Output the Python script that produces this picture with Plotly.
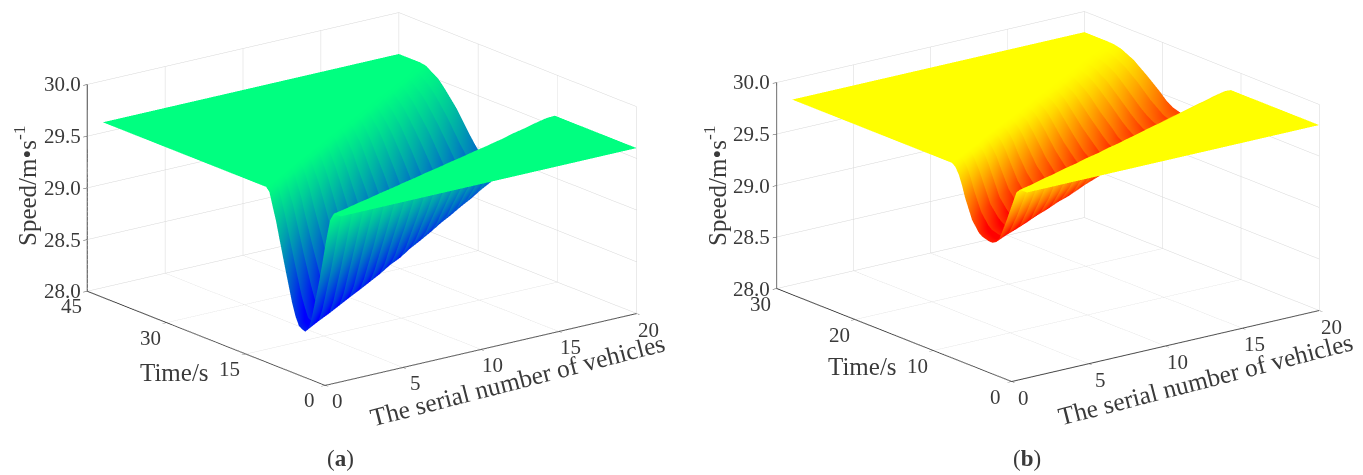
import plotly.graph_objects as go

vehicles = list(range(1, 21))

# Panel (a): sample times per vehicle (s)
time_a = [
 [1.3,2.7,4.0,5.4,6.7,7.9,9.2,10.4,11.6,12.9,14.1],
 [2.0,3.5,4.9,6.4,7.8,9.1,10.4,11.7,12.9,14.2,15.5],
 [2.8,4.3,5.8,7.3,8.8,10.2,11.5,12.9,14.2,15.6,16.9],
 [3.5,5.1,6.7,8.3,9.9,11.3,12.7,14.2,15.6,17.0,18.4],
 [4.3,6.0,7.7,9.3,11.0,12.5,13.9,15.4,16.9,18.3,19.8],
 [5.0,6.8,8.5,10.3,12.0,13.5,15.1,16.6,18.1,19.7,21.2],
 [5.8,7.6,9.5,11.3,13.1,14.7,16.3,17.9,19.4,21.0,22.6],
 [6.5,8.4,10.4,12.3,14.2,15.8,17.5,19.1,20.7,22.4,24.0],
 [7.3,9.3,11.3,13.3,15.3,17.0,18.7,20.4,22.1,23.8,25.5],
 [8.0,10.1,12.2,14.2,16.3,18.1,19.8,21.6,23.4,25.1,26.9],
 [8.8,11.0,13.1,15.3,17.4,19.2,21.0,22.9,24.7,26.5,28.3],
 [9.5,11.8,14.0,16.3,18.5,20.4,22.2,24.1,26.0,27.8,29.7],
 [10.3,12.6,14.9,17.2,19.5,21.4,23.4,25.3,27.2,29.2,31.1],
 [11.0,13.4,15.8,18.2,20.6,22.6,24.6,26.6,28.6,30.6,32.6],
 [11.8,14.3,16.8,19.2,21.7,23.8,25.8,27.9,29.9,32.0,34.0],
 [12.5,15.1,17.6,20.2,22.7,24.8,26.9,29.1,31.2,33.3,35.4],
 [13.3,15.9,18.6,21.2,23.8,26.0,28.1,30.3,32.5,34.6,36.8],
 [14.0,16.7,19.5,22.2,24.9,27.1,29.3,31.6,33.8,36.0,38.2],
 [14.8,17.6,20.4,23.2,26.0,28.3,30.6,32.9,35.1,37.4,39.7],
 [15.5,18.4,21.3,24.1,27.0,29.3,31.7,34.0,36.3,38.7,41.0],
]
# Panel (a): speed at those times (m/s)
speed_a = [
 [29.6,29.33,28.91,28.53,28.35,28.38,28.58,28.86,29.15,29.44,29.6],
 [29.6,29.33,28.92,28.54,28.37,28.40,28.60,28.89,29.17,29.45,29.6],
 [29.6,29.33,28.93,28.56,28.39,28.43,28.63,28.91,29.19,29.45,29.6],
 [29.6,29.34,28.95,28.58,28.41,28.46,28.66,28.93,29.20,29.46,29.6],
 [29.6,29.34,28.96,28.60,28.44,28.49,28.69,28.96,29.22,29.47,29.6],
 [29.6,29.35,28.97,28.62,28.46,28.52,28.72,28.98,29.24,29.47,29.6],
 [29.6,29.35,28.98,28.64,28.48,28.55,28.75,29.01,29.25,29.48,29.6],
 [29.6,29.36,29.00,28.65,28.50,28.57,28.77,29.03,29.27,29.49,29.6],
 [29.6,29.37,29.01,28.68,28.53,28.61,28.80,29.05,29.29,29.49,29.6],
 [29.6,29.37,29.02,28.70,28.55,28.63,28.83,29.08,29.30,29.50,29.6],
 [29.6,29.38,29.04,28.72,28.58,28.66,28.86,29.10,29.32,29.51,29.6],
 [29.6,29.38,29.05,28.74,28.60,28.69,28.88,29.12,29.33,29.51,29.6],
 [29.6,29.39,29.07,28.77,28.63,28.72,28.92,29.14,29.35,29.52,29.6],
 [29.6,29.39,29.08,28.79,28.66,28.76,28.95,29.17,29.37,29.52,29.6],
 [29.6,29.40,29.09,28.81,28.68,28.78,28.97,29.19,29.38,29.53,29.6],
 [29.6,29.40,29.11,28.84,28.71,28.81,29.00,29.21,29.39,29.53,29.6],
 [29.6,29.41,29.12,28.85,28.73,28.84,29.02,29.23,29.40,29.54,29.6],
 [29.6,29.42,29.14,28.88,28.76,28.87,29.05,29.25,29.42,29.54,29.6],
 [29.6,29.42,29.15,28.90,28.79,28.90,29.07,29.27,29.43,29.55,29.6],
 [29.6,29.43,29.17,28.93,28.82,28.93,29.10,29.29,29.44,29.55,29.6],
]
# Panel (a): further samples read on the rounded parts, one value per vehicle
crest_t_a = [2.0,2.75,3.55,4.3,5.15,5.9,6.7,7.45,8.3,9.05,9.9,10.65,11.45,12.2,13.05,13.8,14.6,15.35,16.2,16.95]
crest_v_a = [29.525,29.53,29.53,29.53,29.53,29.53,29.53,29.535,29.535,29.54,29.54,29.54,29.54,29.545,29.545,29.545,29.55,29.55,29.55,29.55]
before_min_t_a = [6.05,7.1,8.05,9.1,10.15,11.15,12.2,13.25,14.3,15.25,16.35,17.4,18.35,19.4,20.45,21.45,22.5,23.55,24.6,25.55]
before_min_v_a = [28.39,28.41,28.43,28.45,28.47,28.49,28.51,28.53,28.56,28.58,28.61,28.63,28.66,28.69,28.71,28.74,28.76,28.79,28.81,28.84]
after_min_t_a = [7.3,8.45,9.5,10.6,11.75,12.75,13.9,15.0,16.15,17.2,18.3,19.45,20.45,21.6,22.75,23.75,24.9,26.0,27.15,28.15]
after_min_v_a = [28.36,28.38,28.40,28.42,28.45,28.47,28.50,28.52,28.55,28.57,28.60,28.62,28.65,28.68,28.70,28.74,28.76,28.79,28.82,28.85]
lower_back_t_a = [8.55,9.75,10.85,12.0,13.2,14.3,15.5,16.65,17.85,18.95,20.1,21.3,22.4,23.6,24.8,25.85,27.05,28.2,29.45,30.5]
lower_back_v_a = [28.46,28.49,28.52,28.55,28.58,28.61,28.63,28.66,28.69,28.72,28.75,28.78,28.81,28.84,28.87,28.90,28.92,28.95,28.98,29.01]
upper_back_t_a = [12.25,13.55,14.9,16.3,17.6,18.9,20.2,21.55,22.95,24.2,25.6,26.9,28.2,29.6,30.95,32.25,33.55,34.9,36.25,37.5]
upper_back_v_a = [29.31,29.32,29.34,29.35,29.36,29.37,29.38,29.39,29.40,29.41,29.43,29.43,29.45,29.45,29.46,29.47,29.48,29.49,29.50,29.51]
shoulder_t_a = [13.5,14.85,16.25,17.7,19.05,20.45,21.8,23.2,24.65,26.0,27.4,28.75,30.15,31.6,33.0,34.35,35.7,37.1,38.55,39.85]
shoulder_v_a = [29.565,29.57,29.57,29.57,29.57,29.575,29.575,29.58,29.58,29.58,29.58,29.585,29.585,29.585,29.585,29.59,29.59,29.59,29.59,29.59]

# Panel (b): sample times per vehicle (s)
time_b = [
 [0.9,1.8,2.7,3.5,4.4,5.3,6.1,7.0,7.9,8.7,9.6],
 [1.4,2.3,3.3,4.2,5.1,6.0,6.9,7.8,8.7,9.6,10.5],
 [2.0,2.9,3.9,4.8,5.7,6.7,7.6,8.6,9.5,10.5,11.4],
 [2.5,3.5,4.5,5.4,6.4,7.4,8.4,9.4,10.3,11.3,12.3],
 [3.1,4.1,5.1,6.1,7.1,8.1,9.2,10.2,11.2,12.3,13.3],
 [3.6,4.6,5.7,6.7,7.7,8.8,9.9,11.0,12.0,13.1,14.2],
 [4.2,5.3,6.3,7.4,8.4,9.5,10.6,11.8,12.9,14.0,15.1],
 [4.7,5.8,6.9,7.9,9.0,10.2,11.3,12.5,13.7,14.8,16.0],
 [5.3,6.4,7.5,8.6,9.7,10.9,12.1,13.3,14.5,15.7,16.9],
 [5.8,7.0,8.1,9.3,10.4,11.6,12.9,14.1,15.3,16.6,17.8],
 [6.4,7.6,8.7,9.9,11.0,12.3,13.6,14.9,16.2,17.5,18.8],
 [6.9,8.1,9.3,10.5,11.7,13.0,14.4,15.7,17.0,18.4,19.7],
 [7.5,8.7,10.0,11.2,12.4,13.8,15.1,16.5,17.9,19.2,20.6],
 [8.0,9.3,10.5,11.8,13.0,14.4,15.8,17.3,18.7,20.1,21.5],
 [8.6,9.9,11.2,12.4,13.7,15.2,16.6,18.1,19.5,21.0,22.4],
 [9.1,10.4,11.7,13.0,14.3,15.8,17.3,18.8,20.3,21.8,23.3],
 [9.7,11.0,12.4,13.7,15.0,16.6,18.1,19.7,21.2,22.8,24.3],
 [10.2,11.6,13.0,14.3,15.7,17.3,18.9,20.5,22.0,23.6,25.2],
 [10.8,12.2,13.6,14.9,16.3,17.9,19.6,21.2,22.8,24.5,26.1],
 [11.3,12.7,14.2,15.6,17.0,18.7,20.3,22.0,23.7,25.3,27.0],
]
# Panel (b): speed at those times (m/s)
speed_b = [
 [29.8,29.65,29.43,29.25,29.18,29.19,29.22,29.32,29.51,29.71,29.8],
 [29.8,29.65,29.43,29.26,29.19,29.20,29.24,29.34,29.52,29.72,29.8],
 [29.8,29.65,29.44,29.27,29.20,29.21,29.26,29.36,29.54,29.72,29.8],
 [29.8,29.65,29.45,29.28,29.21,29.22,29.27,29.37,29.55,29.73,29.8],
 [29.8,29.66,29.45,29.29,29.22,29.23,29.29,29.39,29.56,29.73,29.8],
 [29.8,29.66,29.46,29.30,29.23,29.25,29.30,29.41,29.57,29.73,29.8],
 [29.8,29.66,29.46,29.31,29.24,29.26,29.32,29.43,29.58,29.74,29.8],
 [29.8,29.66,29.47,29.32,29.25,29.27,29.34,29.44,29.60,29.74,29.8],
 [29.8,29.67,29.48,29.33,29.26,29.28,29.35,29.46,29.61,29.75,29.8],
 [29.8,29.67,29.48,29.33,29.27,29.29,29.37,29.48,29.62,29.75,29.8],
 [29.8,29.67,29.49,29.34,29.28,29.30,29.38,29.49,29.63,29.75,29.8],
 [29.8,29.67,29.49,29.35,29.29,29.31,29.39,29.51,29.64,29.76,29.8],
 [29.8,29.68,29.50,29.36,29.30,29.32,29.41,29.52,29.65,29.76,29.8],
 [29.8,29.68,29.51,29.37,29.31,29.34,29.42,29.54,29.66,29.76,29.8],
 [29.8,29.68,29.51,29.38,29.32,29.35,29.44,29.55,29.67,29.76,29.8],
 [29.8,29.68,29.52,29.39,29.33,29.36,29.45,29.57,29.68,29.77,29.8],
 [29.8,29.69,29.52,29.40,29.34,29.37,29.46,29.58,29.69,29.77,29.8],
 [29.8,29.69,29.53,29.40,29.35,29.38,29.47,29.59,29.70,29.77,29.8],
 [29.8,29.69,29.54,29.42,29.365,29.39,29.49,29.61,29.71,29.78,29.8],
 [29.8,29.70,29.55,29.43,29.38,29.41,29.51,29.62,29.72,29.78,29.8],
]
# Panel (b): further samples read on the rounded parts, one value per vehicle
crest_t_b = [1.35,1.85,2.45,3.0,3.6,4.1,4.75,5.25,5.85,6.4,7.0,7.5,8.1,8.65,9.25,9.75,10.35,10.9,11.5,12.0]
crest_v_b = [29.76,29.76,29.76,29.76,29.76,29.76,29.76,29.76,29.76,29.76,29.76,29.765,29.765,29.765,29.765,29.77,29.77,29.77,29.77,29.77]
before_min_t_b = [3.95,4.65,5.25,5.9,6.6,7.2,7.9,8.45,9.15,9.85,10.45,11.1,11.8,12.4,13.05,13.65,14.35,15.0,15.6,16.3]
before_min_v_b = [29.20,29.21,29.22,29.23,29.24,29.25,29.26,29.27,29.28,29.29,29.30,29.31,29.32,29.32,29.33,29.34,29.35,29.36,29.38,29.39]
after_min_t_b = [4.85,5.55,6.2,6.9,7.6,8.25,8.95,9.6,10.3,11.0,11.65,12.35,13.1,13.7,14.45,15.05,15.8,16.5,17.1,17.85]
after_min_v_b = [29.18,29.19,29.20,29.21,29.22,29.23,29.24,29.25,29.26,29.27,29.285,29.295,29.305,29.315,29.325,29.335,29.345,29.36,29.37,29.39]
lower_back_t_b = [5.7,6.45,7.15,7.9,8.65,9.35,10.05,10.75,11.5,12.25,12.95,13.7,14.45,15.1,15.9,16.55,17.35,18.1,18.75,19.5]
lower_back_v_b = [29.20,29.21,29.23,29.24,29.25,29.27,29.28,29.30,29.31,29.32,29.33,29.35,29.36,29.37,29.38,29.40,29.41,29.42,29.44,29.45]
upper_back_t_b = [8.3,9.15,10.0,10.8,11.75,12.55,13.45,14.25,15.1,15.95,16.85,17.7,18.55,19.4,20.25,21.05,22.0,22.8,23.65,24.5]
upper_back_v_b = [29.62,29.63,29.64,29.65,29.66,29.66,29.67,29.68,29.68,29.69,29.70,29.71,29.71,29.72,29.72,29.73,29.73,29.74,29.75,29.75]
shoulder_t_b = [9.15,10.05,10.95,11.8,12.8,13.65,14.55,15.4,16.3,17.2,18.15,19.05,19.9,20.8,21.7,22.55,23.55,24.4,25.3,26.15]
shoulder_v_b = [29.775,29.775,29.78,29.78,29.78,29.78,29.78,29.785,29.785,29.785,29.785,29.79,29.79,29.79,29.79,29.79,29.79,29.79,29.795,29.795]

extras_a = [(crest_t_a, crest_v_a), (before_min_t_a, before_min_v_a), (after_min_t_a, after_min_v_a),
            (lower_back_t_a, lower_back_v_a), (upper_back_t_a, upper_back_v_a), (shoulder_t_a, shoulder_v_a)]
extras_b = [(crest_t_b, crest_v_b), (before_min_t_b, before_min_v_b), (after_min_t_b, after_min_v_b),
            (lower_back_t_b, lower_back_v_b), (upper_back_t_b, upper_back_v_b), (shoulder_t_b, shoulder_v_b)]

vehicle_ticks = [0, 5, 10, 15, 20]
speed_ticks = [28.0, 28.5, 29.0, 29.5, 30.0]
time_ticks_a = [0, 15, 30, 45]
time_ticks_b = [0, 10, 20, 30]

W, H = 1363, 475
SERIF = "Liberation Serif"
TXT = "#3a3a3a"
GRID = "#d6d6d6"
EDGE = "#444444"
R = 3.0
EYE = dict(x=-0.578 * R, y=-0.757 * R, z=0.302 * R)
BAND = 0.13  # strength of the colour band between neighbouring vehicles


def surface(times, speeds, extras, tmax, plateau, cmin, colors, scene):
    xs, ys, zs, cs = [], [], [], []
    n = len(vehicles)
    for i, (v, t, s) in enumerate(zip(vehicles, times, speeds)):
        pairs = [(0, plateau), (tmax, plateau)] + list(zip(t, s))
        pairs += [(et[i], ev[i]) for et, ev in extras]
        pairs.sort()
        row_t = [p[0] for p in pairs]
        row_z = [p[1] for p in pairs]
        # each vehicle closes the ribbon on its left and opens the one on its right
        for factor, used in ((1 + BAND, i > 0), (1 - BAND, i < n - 1)):
            if used:
                xs.append([v] * len(row_t))
                ys.append(row_t)
                zs.append(row_z)
                cs.append([plateau - (plateau - z) * factor for z in row_z])
    return go.Surface(
        x=xs, y=ys, z=zs, surfacecolor=cs, scene=scene, cmin=cmin, cmax=plateau,
        colorscale=colors, showscale=False, hoverinfo="skip",
        lighting=dict(ambient=1, diffuse=0, specular=0, roughness=1, fresnel=0),
    )


def axis(rng, ticks):
    return dict(
        range=rng, tickvals=ticks, showticklabels=False, title=dict(text=""),
        showgrid=True, gridcolor=GRID, gridwidth=1, showbackground=False,
        zeroline=False, showline=True, linecolor=EDGE, linewidth=2,
        ticks="outside", ticklen=5, tickcolor=EDGE, tickwidth=1,
        showspikes=False, autorange=False,
    )


def tick_notes(time_ticks):
    font = dict(family=SERIF, size=21, color=TXT)
    out = []
    for v in vehicle_ticks:
        out.append(dict(x=v, y=0, z=28, text=str(v), showarrow=False, font=font, xshift=12, yshift=-16))
    for t in time_ticks:
        out.append(dict(x=0, y=t, z=28, text=str(t), showarrow=False, font=font, xshift=-16, yshift=-15))
    for s in speed_ticks:
        out.append(dict(x=0, y=time_ticks[-1], z=s, text=f"{s:.1f}", showarrow=False, font=font, xshift=-25, yshift=0))
    return out


def scene(domain_x, domain_y, tmax, time_ticks, zratio):
    return dict(
        domain=dict(x=domain_x, y=domain_y),
        xaxis=axis([0, 20], vehicle_ticks),
        yaxis=axis([0, tmax], time_ticks),
        zaxis=axis([28, 30], speed_ticks),
        aspectmode="manual", aspectratio=dict(x=1.97, y=1.97, z=zratio),
        camera=dict(eye=EYE, up=dict(x=0, y=0, z=1), center=dict(x=0, y=0, z=0),
                    projection=dict(type="orthographic")),
        annotations=tick_notes(time_ticks),
        bgcolor="white",
    )


def paper(text, px, py, size, angle=0):
    return dict(text=text, x=px / W, y=1 - py / H, xref="paper", yref="paper", showarrow=False,
                textangle=angle, font=dict(family=SERIF, size=size, color=TXT),
                xanchor="center", yanchor="middle")


winter = [[0, "rgb(0,0,255)"], [1, "rgb(0,255,128)"]]
autumn = [[0, "rgb(255,0,0)"], [1, "rgb(255,255,0)"]]

fig = go.Figure()
fig.add_trace(surface(time_a, speed_a, extras_a, 45, 29.6, 28.35, winter, "scene"))
fig.add_trace(surface(time_b, speed_b, extras_b, 30, 29.8, 29.18, autumn, "scene2"))

fig.update_layout(
    width=W, height=H, margin=dict(l=0, r=0, t=0, b=0), paper_bgcolor="white",
    showlegend=False,
    scene=scene([42 / W, 682 / W], [1 - 398 / H, 1], 45, time_ticks_a, 1.09),
    scene2=scene([733 / W, 1], [1 - 393 / H, 1], 30, time_ticks_b, 1.10),
    annotations=[
        paper("Speed/m•s<sup>-1</sup>", 25, 186, 25, -90),
        paper("Time/s", 174, 372, 25),
        paper("The serial number of vehicles", 517, 380, 25.5, -14.5),
        paper("(<b>a</b>)", 340, 458, 23),
        paper("Speed/m•s<sup>-1</sup>", 715, 185, 25, -90),
        paper("Time/s", 862, 366, 25),
        paper("The serial number of vehicles", 1205, 379, 25.5, -14.5),
        paper("(<b>b</b>)", 1027, 458, 23),
    ],
)
fig.write_html("out.html", config=dict(displayModeBar=False),
               post_script="document.body.style.margin='0';")
